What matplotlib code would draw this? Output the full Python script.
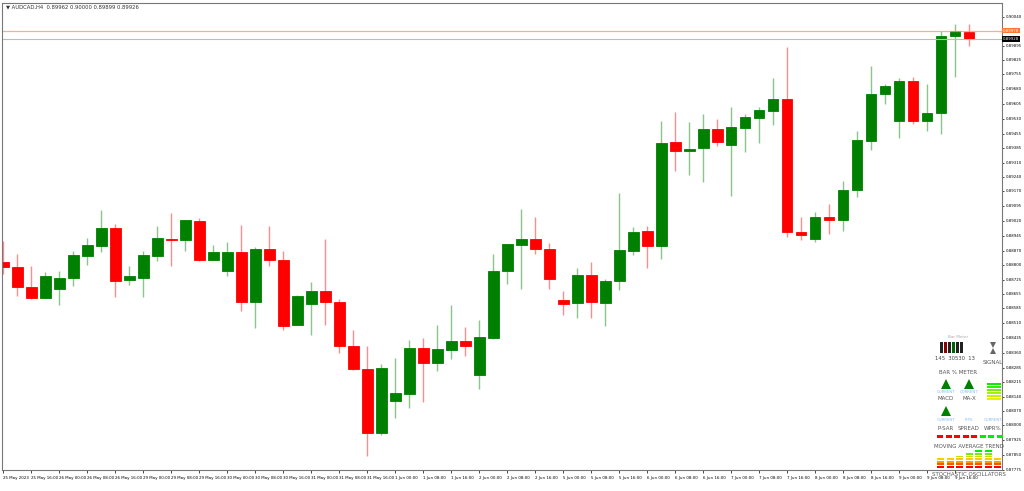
import matplotlib
matplotlib.use("Agg")
import matplotlib.pyplot as plt
from matplotlib.patches import Rectangle, Polygon

# AUDCAD H4 candles (open, high, low, close)
opens = [0.88813, 0.88789, 0.88691, 0.88633, 0.88681, 0.88735, 0.88842, 0.88896, 0.88983, 0.88725,
         0.88735, 0.88842, 0.88930, 0.88925, 0.89018, 0.88823, 0.88769, 0.88862, 0.88613, 0.88881,
         0.88823, 0.88501, 0.88604, 0.88667, 0.88613, 0.88394, 0.88282, 0.87961, 0.88121, 0.88155,
         0.88384, 0.88311, 0.88374, 0.88418, 0.88248, 0.88433, 0.88769, 0.88901, 0.88930, 0.88881,
         0.88623, 0.88609, 0.88750, 0.88609, 0.88720, 0.88871, 0.88969, 0.88896, 0.89412, 0.89368,
         0.89383, 0.89480, 0.89397, 0.89485, 0.89534, 0.89568, 0.89626, 0.88964, 0.88930, 0.89037,
         0.89022, 0.89173, 0.89417, 0.89651, 0.89519, 0.89719, 0.89519, 0.89558, 0.89943, 0.89962]
highs = [0.88920, 0.88852, 0.88793, 0.88764, 0.88769, 0.88867, 0.88935, 0.89076, 0.89003, 0.88793,
         0.88871, 0.88993, 0.89057, 0.89022, 0.89032, 0.88901, 0.88915, 0.88998, 0.88891, 0.88993,
         0.88867, 0.88647, 0.88716, 0.88930, 0.88628, 0.88472, 0.88394, 0.88306, 0.88336, 0.88423,
         0.88433, 0.88501, 0.88599, 0.88487, 0.88526, 0.88852, 0.88906, 0.89081, 0.89037, 0.88910,
         0.88667, 0.88784, 0.88813, 0.88730, 0.89159, 0.88988, 0.88993, 0.89519, 0.89563, 0.89514,
         0.89553, 0.89529, 0.89587, 0.89553, 0.89587, 0.89733, 0.89889, 0.89037, 0.89066, 0.89105,
         0.89217, 0.89470, 0.89792, 0.89704, 0.89733, 0.89738, 0.89704, 0.89967, 0.90001, 0.90001]
lows = [0.88755, 0.88643, 0.88628, 0.88633, 0.88599, 0.88696, 0.88798, 0.88862, 0.88638, 0.88701,
        0.88638, 0.88818, 0.88793, 0.88871, 0.88818, 0.88823, 0.88745, 0.88569, 0.88482, 0.88793,
        0.88472, 0.88501, 0.88448, 0.88501, 0.88360, 0.88277, 0.87844, 0.87951, 0.88034, 0.88083,
        0.88117, 0.88272, 0.88331, 0.88346, 0.88180, 0.88428, 0.88706, 0.88677, 0.88852, 0.88681,
        0.88550, 0.88535, 0.88535, 0.88496, 0.88672, 0.88847, 0.88784, 0.88828, 0.89271, 0.89247,
        0.89212, 0.89393, 0.89144, 0.89363, 0.89407, 0.89500, 0.88940, 0.88925, 0.88915, 0.88954,
        0.88969, 0.89139, 0.89373, 0.89602, 0.89436, 0.89505, 0.89470, 0.89456, 0.89738, 0.89894]
closes = [0.88789, 0.88691, 0.88633, 0.88745, 0.88735, 0.88847, 0.88901, 0.88983, 0.88720, 0.88745,
          0.88847, 0.88935, 0.88925, 0.89022, 0.88823, 0.88862, 0.88862, 0.88613, 0.88881, 0.88823,
          0.88496, 0.88643, 0.88667, 0.88613, 0.88394, 0.88282, 0.87961, 0.88287, 0.88160, 0.88384,
          0.88311, 0.88379, 0.88418, 0.88394, 0.88438, 0.88769, 0.88906, 0.88930, 0.88881, 0.88730,
          0.88604, 0.88750, 0.88613, 0.88720, 0.88876, 0.88964, 0.88896, 0.89407, 0.89368, 0.89378,
          0.89480, 0.89412, 0.89490, 0.89539, 0.89573, 0.89626, 0.88964, 0.88949, 0.89037, 0.89022,
          0.89173, 0.89422, 0.89655, 0.89694, 0.89719, 0.89519, 0.89558, 0.89943, 0.89967, 0.89928]

price_ticks = [0.90040, 0.89895, 0.89825, 0.89755, 0.89680, 0.89605, 0.89530, 0.89455, 0.89385,
               0.89310, 0.89240, 0.89170, 0.89095, 0.89020, 0.88945, 0.88870, 0.88800, 0.88725,
               0.88655, 0.88585, 0.88510, 0.88435, 0.88360, 0.88285, 0.88215, 0.88140, 0.88070,
               0.88000, 0.87925, 0.87850, 0.87775]
time_labels = ["25 May 2023", "25 May 16:00", "26 May 00:00", "26 May 08:00", "26 May 16:00",
               "29 May 00:00", "29 May 08:00", "29 May 16:00", "30 May 00:00", "30 May 08:00",
               "30 May 16:00", "31 May 00:00", "31 May 08:00", "31 May 16:00", "1 Jun 00:00",
               "1 Jun 08:00", "1 Jun 16:00", "2 Jun 00:00", "2 Jun 08:00", "2 Jun 16:00",
               "5 Jun 00:00", "5 Jun 08:00", "5 Jun 16:00", "6 Jun 00:00", "6 Jun 08:00",
               "6 Jun 16:00", "7 Jun 00:00", "7 Jun 08:00", "7 Jun 16:00", "8 Jun 00:00",
               "8 Jun 08:00", "8 Jun 16:00", "9 Jun 00:00", "9 Jun 08:00", "9 Jun 16:00"]
ask_price = 0.89970
bid_price = 0.89928
stoch_heights = [4, 4, 5, 6, 7, 7, 4]

W, H = 1024, 491
GREEN, RED = "#008000", "#ff0000"

fig = plt.figure(figsize=(W / 100, H / 100), dpi=100)
fig.patch.set_facecolor("white")
ax = fig.add_axes([2 / W, 1 - 470 / H, 1000 / W, 467 / H])
ax.set_xlim(-0.1, 71.35)
ax.set_ylim(0.87834, 0.90108)

for i, (o, h, l, c) in enumerate(zip(opens, highs, lows, closes)):
    col = GREEN if c >= o else RED
    ax.vlines(i, l, h, color=col, lw=1, alpha=0.45, zorder=1)
    lo, hi = min(o, c), max(o, c)
    ax.add_patch(Rectangle((i - 0.38, lo), 0.76, max(hi - lo, 0.00004),
                           facecolor=col, edgecolor=col, lw=0.6, zorder=2))

ax.axhline(ask_price, color="#ff9966", lw=0.9, alpha=0.8)
ax.axhline(bid_price, color="#bbbbbb", lw=0.8)

ax.yaxis.tick_right()
ax.set_yticks(price_ticks)
ax.set_yticklabels([f"{p:.5f}" for p in price_ticks], fontsize=2.8)
ax.tick_params(axis="y", length=1.5, width=0.5, pad=1)
ax.set_xticks(range(0, 70, 2))
ax.set_xticklabels(time_labels, fontsize=2.9, ha="left")
ax.tick_params(axis="x", length=2, width=0.5, pad=2)
for s in ax.spines.values():
    s.set_color("#777777")
    s.set_linewidth(0.8)

# price tags on the right axis
ax.text(1.001, ask_price, f"{ask_price:.5f}", transform=ax.get_yaxis_transform(), fontsize=2.8,
        va="center", color="white", bbox=dict(fc="#ff7733", ec="none", pad=0.5))
ax.text(1.001, bid_price, f"{bid_price:.5f}", transform=ax.get_yaxis_transform(), fontsize=2.8,
        va="center", color="white", bbox=dict(fc="black", ec="none", pad=0.5))

fig.text(6 / W, 1 - 7 / H, "▼ AUDCAD,H4  0.89962 0.90000 0.89899 0.89926", fontsize=3.8,
         va="center", color="#333333")


# indicator dashboard in the lower right corner (pixel placement)
def px(x, y):
    return x / W, 1 - y / H


def ptext(x, y, s, size=4.0, color="#555555"):
    fig.text(*px(x, y), s, fontsize=size, color=color, ha="center", va="center")


def prect(x, y, w, h, color):
    fig.add_artist(Rectangle(px(x, y + h), w / W, h / H, transform=fig.transFigure,
                             facecolor=color, edgecolor="none"))


def ptri(x, y, color=GREEN, up=True, r=5):
    if up:
        pts = [px(x - r, y + r), px(x + r, y + r), px(x, y - r)]
    else:
        pts = [px(x - r, y - r), px(x + r, y - r), px(x, y + r)]
    fig.add_artist(Polygon(pts, closed=True, transform=fig.transFigure, facecolor=color,
                           edgecolor="none"))


ptext(958, 337, "Bar Meter", 3, "#aaaaaa")
for k, c in enumerate(["#222222", "#8b0000", "#222222", "#006400", "#222222", "#222222"]):
    prect(940 + k * 4, 342, 2.5, 11, c)
# hourglass icon
ptri(993, 345, "#666666", up=False, r=3)
ptri(993, 351, "#666666", up=True, r=3)
ptext(955, 358, "145  30530  13", 3.8, "#444444")
ptext(993, 362, "SIGNAL", 4.0)
ptext(958, 372, "BAR % METER", 4.0)
ptri(946, 384)
ptri(969, 384)
ptext(946, 392, "CURRENT", 2.8, "#88bbee")
ptext(969, 392, "CURRENT", 2.8, "#88bbee")
ptext(946, 399, "MACD", 4.0)
ptext(969, 399, "MA-X", 4.0)
for k, c in enumerate(["#00ee00", "#33ee00", "#77ee00", "#aaee00", "#ccee00", "#eeee00"]):
    prect(987, 383 + k * 3, 14, 2, c)
ptri(946, 411)
ptext(946, 420, "CURRENT", 2.8, "#88bbee")
ptext(969, 420, "PIPS", 2.8, "#88bbee")
ptext(993, 420, "CURRENT", 2.8, "#88bbee")
ptext(946, 428, "P-SAR", 4.0)
ptext(969, 428, "SPREAD", 4.0)
ptext(993, 428, "WPR%", 4.0)
for k, c in enumerate([RED, RED, RED, RED, RED, "#00ee00", "#00ee00", "#00ee00"]):
    prect(937 + k * 8.5, 435, 6, 2.5, c)
ptext(969, 447, "MOVING AVERAGE TREND", 4.0)
stoch_colors = [RED, "#ff5500", "#ff9900", "#ffcc00", "#ccdd00", "#77ee00", "#00ee00"]
for k, n in enumerate(stoch_heights):
    for j in range(n):
        prect(937 + k * 9.5, 466 - j * 2.6, 7, 1.8, stoch_colors[j])
ptext(969, 474, "STOCHASTIC OSCILLATORS", 4.0)

fig.savefig("out.png", dpi=100)
